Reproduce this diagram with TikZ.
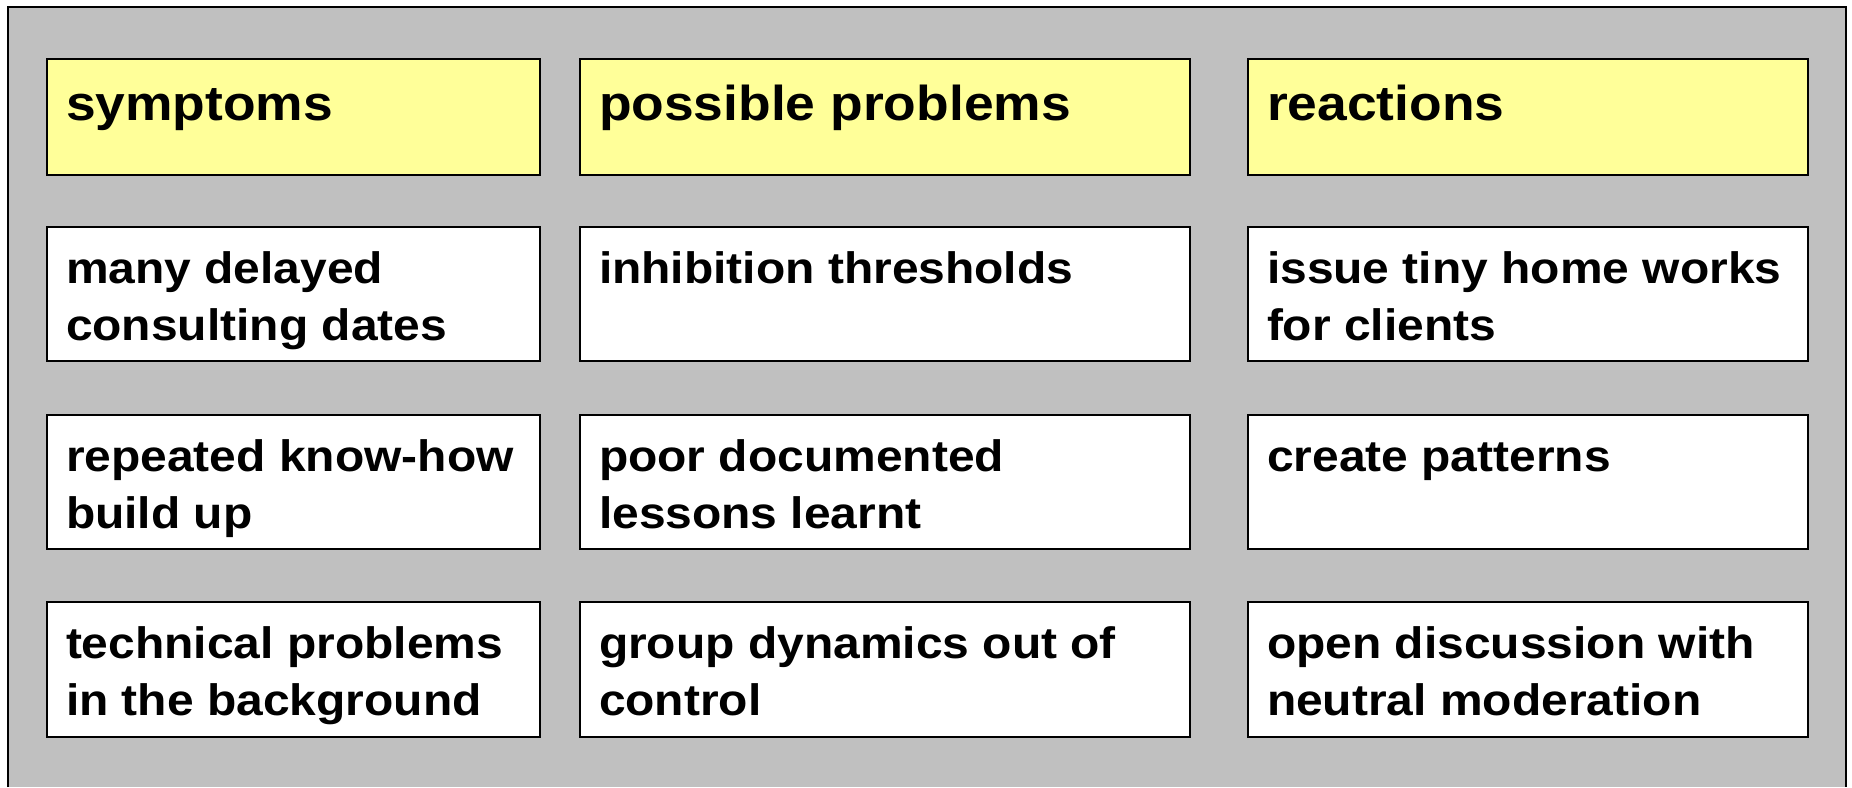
\documentclass[tikz,border=0pt]{standalone}
\usepackage{fontspec}
\newfontfamily\af[FakeStretch=1.09]{Liberation Sans}
\definecolor{bg}{HTML}{C0C0C0}
\definecolor{hdyellow}{HTML}{FFFF99}
\newcommand\twol[2]{\vtop{\baselineskip=28.5pt\hbox{#1}\hbox{#2}}}
\tikzset{
  cell/.style={draw=black, line width=1pt, fill=white, anchor=north west, inner sep=0pt, outer sep=0pt, minimum height=67pt},
  head/.style={cell, fill=hdyellow, minimum height=58pt},
  c1/.style={minimum width=246.5pt},
  c2/.style={minimum width=305pt},
  c3/.style={minimum width=280pt},
  txt/.style={anchor=base west, inner sep=0pt, outer sep=0pt, font=\af\bfseries\fontsize{22}{28.5}\selectfont},
  htxt/.style={txt, font=\af\bfseries\fontsize{24.5}{30}\selectfont},
  frame/.style={draw=black, line width=1pt}
}
\begin{document}
\begin{tikzpicture}[x=0.5pt, y=-0.5pt]
\useasboundingbox (0,0) rectangle (1852,787);
\fill[white] (0,0) rectangle (1852,787);
\fill[bg] (8,7) rectangle (1846,787);
\draw[frame] (8,787) -- (8,7) -- (1846,7) -- (1846,787);
% header row
\node[head, c1] (h1) at (47,59) {};
\node[head, c2] (h2) at (580,59) {};
\node[head, c3] (h3) at (1248,59) {};
\node[htxt] (th1) at ([shift={(19,61.5)}]h1.north west) {symptoms};
\node[htxt] (th2) at ([shift={(19,61.5)}]h2.north west) {possible problems};
\node[htxt] (th3) at ([shift={(19,61.5)}]h3.north west) {reactions};
% row 1
\node[cell, c1] (a1) at (47,227) {};
\node[cell, c2] (a2) at (580,227) {};
\node[cell, c3] (a3) at (1248,227) {};
\node[txt] (ta1) at ([shift={(19,56)}]a1.north west) {\twol{many delayed}{consulting dates}};
\node[txt] (ta2) at ([shift={(19,56)}]a2.north west) {inhibition thresholds};
\node[txt] (ta3) at ([shift={(19,56)}]a3.north west) {\twol{issue tiny home works}{for clients}};
% row 2
\node[cell, c1] (b1) at (47,415) {};
\node[cell, c2] (b2) at (580,415) {};
\node[cell, c3] (b3) at (1248,415) {};
\node[txt] (tb1) at ([shift={(19,56)}]b1.north west) {\twol{repeated know-how}{build up}};
\node[txt] (tb2) at ([shift={(19,56)}]b2.north west) {\twol{poor documented}{lessons learnt}};
\node[txt] (tb3) at ([shift={(19,56)}]b3.north west) {create patterns};
% row 3
\node[cell, c1, minimum height=67.5pt] (r1) at (47,602) {};
\node[cell, c2, minimum height=67.5pt] (r2) at (580,602) {};
\node[cell, c3, minimum height=67.5pt] (r3) at (1248,602) {};
\node[txt] (tr1) at ([shift={(19,56)}]r1.north west) {\twol{technical problems}{in the background}};
\node[txt] (tr2) at ([shift={(19,56)}]r2.north west) {\twol{group dynamics out of}{control}};
\node[txt] (tr3) at ([shift={(19,56)}]r3.north west) {\twol{open discussion with}{neutral moderation}};
\end{tikzpicture}
\end{document}
